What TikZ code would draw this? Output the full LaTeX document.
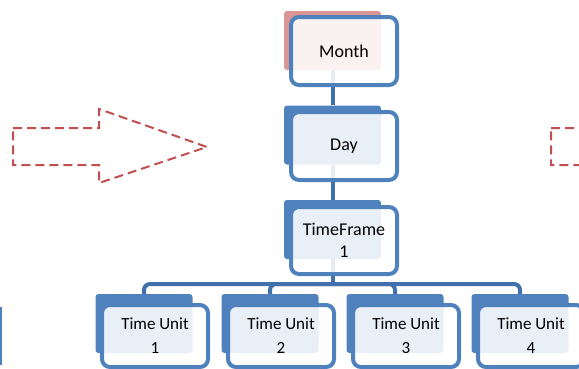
\documentclass[tikz,border=0pt]{standalone}
\usepackage{fontspec}
\setmainfont{Carlito}
\definecolor{accblue}{RGB}{79,129,189}
\definecolor{connblue}{RGB}{66,112,172}
\definecolor{accpink}{RGB}{217,150,148}
\definecolor{accred}{RGB}{192,80,77}
\tikzset{
  backbox/.style={rectangle, rounded corners=3pt, inner sep=0pt,
    minimum width=97pt, minimum height=59pt, fill=#1},
  frontbox/.style={rectangle, rounded corners=8pt, draw=accblue, line width=4pt,
    fill=white, fill opacity=0.88, text opacity=1, inner sep=0pt,
    minimum width=106pt, minimum height=68pt, align=center,
    font=\fontsize{18}{22}\selectfont},
  unitfront/.style={frontbox, minimum height=62pt,
    font=\fontsize{17}{24}\selectfont},
  conn/.style={draw=connblue, line width=4pt, rounded corners=6pt},
  bigarrow/.style={draw=accred, line width=2pt, dash pattern=on 9pt off 5pt}
}
\begin{document}
\begin{tikzpicture}[x=1pt,y=-1pt]
\useasboundingbox (0,0) rectangle (579,368);

% solid back cards
\node[backbox=accpink] (mb) at (332.5,40.5) {};
\node[backbox=accblue] (db) at (332.5,135) {};
\node[backbox=accblue] (tb) at (332.5,229.5) {};
\node[backbox=accblue] (u1b) at (144,323.5) {};
\node[backbox=accblue] (u2b) at (270,323.5) {};
\node[backbox=accblue] (u3b) at (395,323.5) {};
\node[backbox=accblue] (u4b) at (520,323.5) {};

% hierarchy connectors
\coordinate (bus) at (332.5,284);
\draw[conn] (mb.south) -- (db.north);
\draw[conn] (db.south) -- (tb.north);
\draw[conn] (tb.south) -- (bus);
\draw[conn] (bus) -| (u1b.north);
\draw[conn] (bus) -| (u2b.north);
\draw[conn] (bus) -| (u3b.north);
\draw[conn] (bus) -| (u4b.north);

% outlined front cards with labels
\node[frontbox] (m) at (344,51) {Month};
\node[frontbox] (d) at (344,146) {Day};
\node[frontbox, minimum height=67pt] (t) at (344,240.5) {TimeFrame\\1};
\node[unitfront] (u1) at (155,336) {Time Unit\\1};
\node[unitfront] (u2) at (281,336) {Time Unit\\2};
\node[unitfront] (u3) at (406,336) {Time Unit\\3};
\node[unitfront] (u4) at (531,336) {Time Unit\\4};

% dashed block arrows
\draw[bigarrow] (13,128) -- (99,128) -- (99,109) -- (207,147) -- (99,183)
  -- (99,165) -- (13,165) -- cycle;
\draw[bigarrow] (551,128) -- (637,128) -- (637,109) -- (745,147) -- (637,183)
  -- (637,165) -- (551,165) -- cycle;

% edge of a neighbouring card
\draw[accblue, line width=2pt] (1,307) -- (1,365);
\end{tikzpicture}
\end{document}
